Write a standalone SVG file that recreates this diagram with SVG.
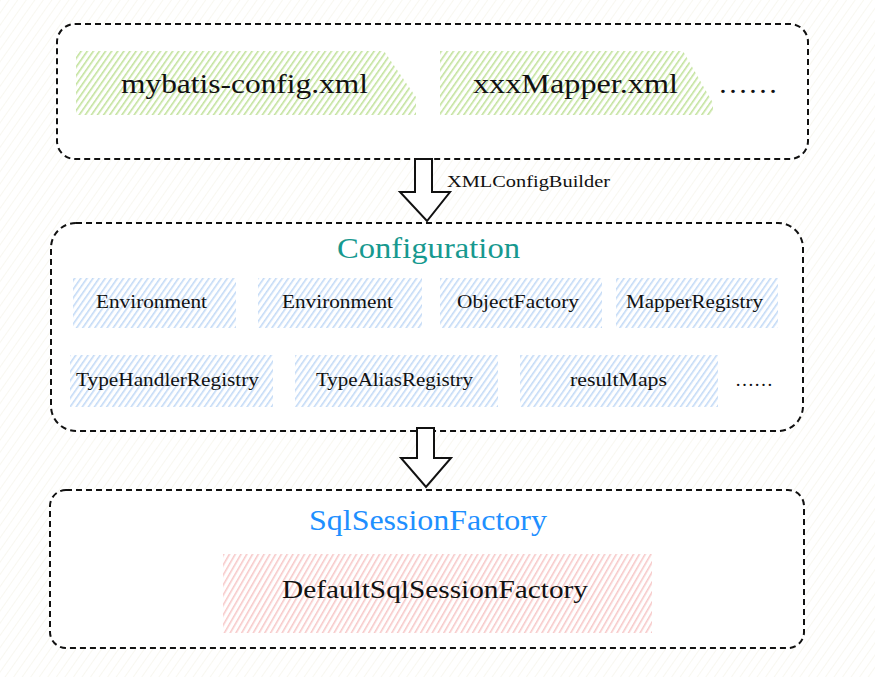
<svg xmlns="http://www.w3.org/2000/svg" width="875" height="677" viewBox="0 0 875 677">
<defs>
  <pattern id="bg" width="7" height="7" patternUnits="userSpaceOnUse" patternTransform="rotate(35)">
    <line x1="0" y1="0" x2="0" y2="7" stroke="#f1efe2" stroke-width="1"/>
  </pattern>
  <pattern id="hg" width="5" height="5" patternUnits="userSpaceOnUse" patternTransform="rotate(35)">
    <line x1="0.8" y1="0" x2="0.8" y2="5" stroke="#c2e29c" stroke-width="1.6"/>
  </pattern>
  <pattern id="hb" width="5" height="5" patternUnits="userSpaceOnUse" patternTransform="rotate(35)">
    <line x1="0.8" y1="0" x2="0.8" y2="5" stroke="#c3daf6" stroke-width="1.6"/>
  </pattern>
  <pattern id="hr" width="5" height="5" patternUnits="userSpaceOnUse" patternTransform="rotate(30)">
    <line x1="0.8" y1="0" x2="0.8" y2="5" stroke="#f6c2c2" stroke-width="1.4"/>
  </pattern>
</defs>
<style>
  .frame { fill: #ffffff; stroke: #111; stroke-width: 2; stroke-dasharray: 6 4; }
  .t { font-family: "Liberation Serif", "DejaVu Serif", serif; fill: #111; }
  .big { font-size: 28px; }
  .mid { font-size: 18px; }
  .arrow { fill: #ffffff; stroke: #111; stroke-width: 2; stroke-linejoin: miter; }
</style>
<rect x="0" y="0" width="875" height="677" fill="#ffffff"/>
<rect x="0" y="0" width="875" height="677" fill="url(#bg)"/>

<g id="xml-files">
  <rect class="frame" x="57" y="24" width="751" height="135" rx="18"/>
  <g id="mybatis-config">
    <path d="M76 51 H384 L416 97 V115 H76 Z" fill="url(#hg)"/>
    <text class="t big" x="121" y="93" textLength="247" lengthAdjust="spacingAndGlyphs">mybatis-config.xml</text>
  </g>
  <g id="xxxMapper">
    <path d="M440 51 H683 L713 103 V115 H440 Z" fill="url(#hg)"/>
    <text class="t big" x="473" y="93" textLength="205" lengthAdjust="spacingAndGlyphs">xxxMapper.xml</text>
  </g>
  <text class="t big" x="718" y="93" textLength="60" lengthAdjust="spacingAndGlyphs">……</text>
</g>

<g id="configuration">
  <rect class="frame" x="51" y="223" width="752" height="208" rx="25"/>
  <text class="t" x="337" y="258" font-size="29" style="fill:#17998f" textLength="183" lengthAdjust="spacingAndGlyphs">Configuration</text>
  <g id="env1">
    <rect x="73" y="278" width="163" height="50" fill="url(#hb)"/>
    <text class="t mid" x="96" y="308" textLength="111" lengthAdjust="spacingAndGlyphs">Environment</text>
  </g>
  <g id="env2">
    <rect x="258" y="278" width="164" height="50" fill="url(#hb)"/>
    <text class="t mid" x="282" y="308" textLength="111" lengthAdjust="spacingAndGlyphs">Environment</text>
  </g>
  <g id="objectFactory">
    <rect x="440" y="278" width="162" height="50" fill="url(#hb)"/>
    <text class="t mid" x="457" y="308" textLength="122" lengthAdjust="spacingAndGlyphs">ObjectFactory</text>
  </g>
  <g id="mapperRegistry">
    <rect x="616" y="278" width="162" height="50" fill="url(#hb)"/>
    <text class="t mid" x="626" y="308" textLength="137" lengthAdjust="spacingAndGlyphs">MapperRegistry</text>
  </g>
  <g id="typeHandlerRegistry">
    <rect x="70" y="355" width="203" height="52" fill="url(#hb)"/>
    <text class="t mid" x="76" y="386" textLength="183" lengthAdjust="spacingAndGlyphs">TypeHandlerRegistry</text>
  </g>
  <g id="typeAliasRegistry">
    <rect x="295" y="355" width="203" height="52" fill="url(#hb)"/>
    <text class="t mid" x="316" y="386" textLength="157" lengthAdjust="spacingAndGlyphs">TypeAliasRegistry</text>
  </g>
  <g id="resultMaps">
    <rect x="520" y="355" width="198" height="52" fill="url(#hb)"/>
    <text class="t mid" x="570" y="386" textLength="97" lengthAdjust="spacingAndGlyphs">resultMaps</text>
  </g>
  <text class="t mid" x="735" y="386" textLength="38" lengthAdjust="spacingAndGlyphs">……</text>
</g>

<g id="sqlSessionFactory">
  <rect class="frame" x="50" y="490" width="754" height="158" rx="16"/>
  <text class="t" x="309" y="530" font-size="30" style="fill:#1e8fff" textLength="238" lengthAdjust="spacingAndGlyphs">SqlSessionFactory</text>
  <g id="defaultSqlSessionFactory">
    <rect x="223" y="554" width="429" height="79" fill="url(#hr)"/>
    <text class="t" x="282" y="598" font-size="25" textLength="306" lengthAdjust="spacingAndGlyphs">DefaultSqlSessionFactory</text>
  </g>
</g>

<g id="connectors">
  <path class="arrow" d="M415 159 H432 V192 H450 L427 221 L400 192 H415 Z"/>
  <text class="t" x="447" y="187" font-size="17" textLength="163" lengthAdjust="spacingAndGlyphs">XMLConfigBuilder</text>
  <path class="arrow" d="M417 428 H434 V458 H451 L426 487 L401 458 H417 Z"/>
</g>
</svg>
